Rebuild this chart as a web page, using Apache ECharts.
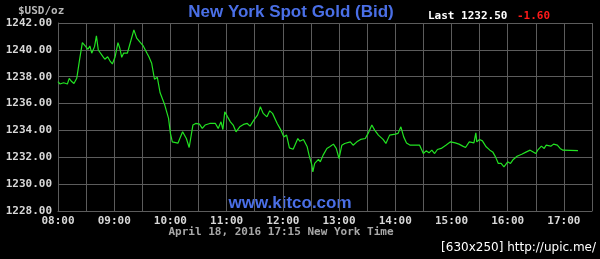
<!DOCTYPE html>
<html><head><meta charset="utf-8">
<script src="https://cdn.jsdelivr.net/npm/echarts@6/dist/echarts.min.js"></script>
<style>html,body{margin:0;padding:0;background:#000}#c{width:600px;height:259px}</style>
</head><body><div id="c"></div>
<script>
const times = ['08:00','08:02','08:06','08:10','08:12','08:14','08:17','08:20','08:23','08:26','08:29','08:32','08:34','08:36','08:39','08:41','08:43','08:45','08:48','08:50','08:53','08:56','08:58','09:01','09:04','09:06','09:08','09:10','09:14','09:17','09:21','09:24','09:28','09:31','09:35','09:37','09:40','09:43','09:46','09:49','09:54','09:58','10:00','10:02','10:04','10:08','10:13','10:17','10:20','10:24','10:27','10:31','10:34','10:37','10:42','10:48','10:51','10:54','10:56','10:58','11:01','11:04','11:07','11:10','11:14','11:18','11:22','11:25','11:29','11:33','11:36','11:39','11:43','11:46','11:49','11:54','11:58','12:01','12:04','12:07','12:11','12:16','12:18','12:22','12:26','12:28','12:31','12:32','12:34','12:38','12:40','12:43','12:47','12:50','12:54','12:57','13:00','13:03','13:06','13:12','13:15','13:19','13:23','13:28','13:31','13:35','13:38','13:42','13:47','13:50','13:54','13:56','14:00','14:03','14:06','14:09','14:12','14:16','14:21','14:26','14:28','14:30','14:33','14:36','14:39','14:42','14:45','14:49','14:54','14:59','15:04','15:08','15:12','15:15','15:19','15:21','15:24','15:26','15:27','15:30','15:33','15:37','15:41','15:44','15:47','15:50','15:53','15:56','15:58','16:00','16:03','16:06','16:10','16:15','16:20','16:24','16:26','16:30','16:32','16:36','16:39','16:41','16:43','16:46','16:49','16:53','16:56','16:59','17:15'];
const prices = [1237.63,1237.46,1237.55,1237.46,1237.88,1237.68,1237.50,1237.88,1239.25,1240.54,1240.29,1240.04,1240.29,1239.75,1240.24,1241.04,1239.99,1240.04,1239.49,1239.30,1239.49,1239.12,1238.95,1239.49,1240.54,1240.12,1239.44,1239.75,1239.75,1240.49,1241.49,1240.87,1240.54,1240.29,1239.75,1239.49,1239.00,1237.81,1237.96,1236.80,1235.89,1234.90,1233.78,1233.15,1233.07,1233.05,1233.90,1233.40,1232.73,1234.40,1234.52,1234.47,1234.15,1234.40,1234.52,1234.52,1234.15,1234.64,1234.07,1235.39,1235.01,1234.64,1234.40,1233.90,1234.27,1234.45,1234.52,1234.32,1234.77,1235.14,1235.76,1235.27,1235.01,1235.46,1235.27,1234.52,1234.02,1233.52,1233.65,1232.70,1232.60,1233.40,1233.20,1233.33,1232.78,1232.16,1231.41,1230.91,1231.54,1231.84,1231.66,1232.16,1232.66,1232.78,1232.98,1232.66,1231.91,1232.90,1233.03,1233.15,1232.90,1233.15,1233.33,1233.40,1233.78,1234.40,1234.02,1233.65,1233.33,1233.03,1233.65,1233.52,1233.72,1233.78,1234.27,1233.52,1233.07,1232.90,1232.90,1232.90,1233.03,1232.28,1232.48,1232.33,1232.53,1232.28,1232.58,1232.66,1232.90,1233.15,1233.07,1232.98,1232.83,1232.73,1233.15,1233.28,1233.07,1233.82,1233.15,1233.33,1233.22,1232.78,1232.53,1232.40,1232.03,1231.54,1231.54,1231.28,1231.16,1231.66,1231.54,1231.84,1232.08,1232.23,1232.40,1232.53,1232.66,1232.28,1232.53,1232.83,1232.66,1232.90,1232.78,1232.83,1232.98,1232.90,1232.66,1232.53,1232.50];
const xStart = '08:00', xEnd = '17:30';
const yMin = 1228, yMax = 1242, yStep = 2;
const titleText = 'New York Spot Gold (Bid)';
const lastText = 'Last 1232.50', changeText = '-1.60';
const unitText = '$USD/oz';
const dateText = 'April 18, 2016 17:15 New York Time';
const siteText = 'www.kitco.com';
const stampText = '[630x250] http://upic.me/';

const toMin = s => { const p = s.split(':'); return +p[0]*60 + +p[1]; };
const pad = n => (n<10?'0':'')+n;
const data = times.map((t,i)=>[toMin(t), prices[i]]);
const mono = '"DejaVu Sans Mono", "Liberation Mono", monospace';
const gridColor = '#5c5c5c';

const chart = echarts.init(document.getElementById('c'), null, {renderer:'canvas'});
chart.setOption({
  backgroundColor:'#000',
  animation:false,
  grid:{left:58,right:8,top:23,bottom:48,containLabel:false},
  xAxis:{
    type:'value', min:toMin(xStart), max:toMin(xEnd), interval:30,
    axisLine:{show:true,lineStyle:{color:gridColor}},
    axisTick:{show:false},
    splitLine:{show:true,lineStyle:{color:gridColor,width:1}},
    axisLabel:{color:'#d8d8d8',fontFamily:mono,fontSize:11,fontWeight:'bold',margin:5,
      formatter:v=> v%60===0 ? pad(Math.floor(v/60))+':00' : ''}
  },
  yAxis:{
    type:'value', min:yMin, max:yMax, interval:yStep,
    axisLine:{show:true,lineStyle:{color:gridColor}},
    axisTick:{show:false},
    splitLine:{show:true,lineStyle:{color:gridColor,width:1}},
    axisLabel:{color:'#d8d8d8',fontFamily:mono,fontSize:11,fontWeight:'bold',margin:6,
      formatter:v=>v.toFixed(2)}
  },
  series:[{
    type:'line', data:data, showSymbol:false, symbol:'none',
    lineStyle:{color:'#22e222',width:1.2}
  }],
  graphic:[
    {type:'text',x:291,y:12,style:{text:titleText,fill:'#4a6fe6',font:'bold 17px "Liberation Sans", Arial, sans-serif',textAlign:'center',textVerticalAlign:'middle'}},
    {type:'text',x:18,y:11,style:{text:unitText,fill:'#b8b8b8',font:'bold 11px '+mono,textAlign:'left',textVerticalAlign:'middle'}},
    {type:'text',x:428,y:16,style:{text:lastText,fill:'#ffffff',font:'bold 11px '+mono,textAlign:'left',textVerticalAlign:'middle'}},
    {type:'text',x:517,y:16,style:{text:changeText,fill:'#ff1a1a',font:'bold 11px '+mono,textAlign:'left',textVerticalAlign:'middle'}},
    {type:'text',x:290,y:203,style:{text:siteText,fill:'#4a6fe6',font:'bold 17px "Liberation Sans", Arial, sans-serif',textAlign:'center',textVerticalAlign:'middle'}},
    {type:'text',x:281,y:232,style:{text:dateText,fill:'#a8a8a8',font:'bold 11px '+mono,textAlign:'center',textVerticalAlign:'middle'}},
    {type:'text',x:596,y:248,style:{text:stampText,fill:'#ffffff',font:'12px "DejaVu Sans", sans-serif',textAlign:'right',textVerticalAlign:'middle'}}
  ]
});
</script></body></html>
